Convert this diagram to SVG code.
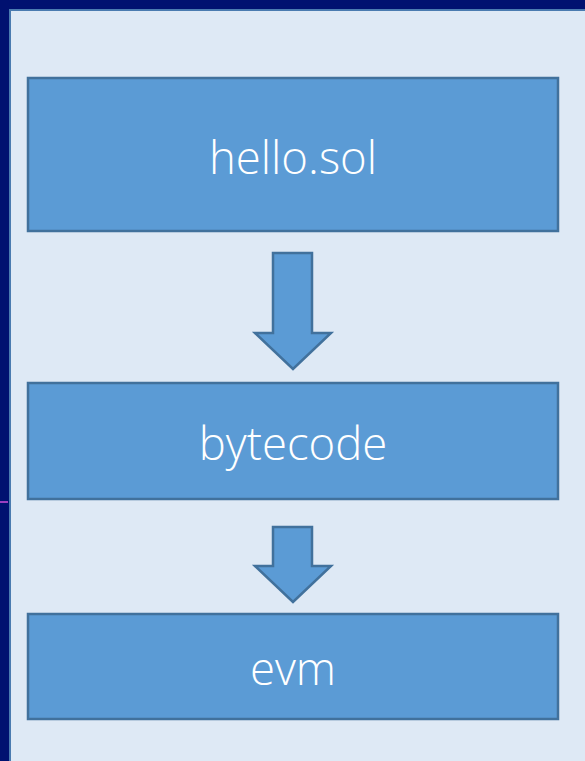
<svg xmlns="http://www.w3.org/2000/svg" width="585" height="761" viewBox="0 0 585 761">
<style>
.box{fill:#5b9bd5;stroke:#41719c;stroke-width:2.5}
.arr{fill:#5b9bd5;stroke:#41719c;stroke-width:2.5;stroke-linejoin:miter}
.lbl{fill:#ffffff;font-family:"Open Sans","Noto Sans",sans-serif;font-weight:300;font-size:45.5px;text-anchor:middle}
</style>
<rect x="0" y="0" width="585" height="761" fill="#dee9f5"/>
<rect x="0" y="0" width="585" height="9" fill="#001170"/>
<rect x="0" y="0" width="9" height="761" fill="#001170"/>
<rect x="9" y="9" width="576" height="2" fill="#4a7bb0"/>
<rect x="9" y="9" width="2" height="752" fill="#4a7bb0"/>
<rect x="0" y="501" width="8" height="2" fill="#9b3fc0"/>
<g id="connectors">
<polygon class="arr" points="273,253 312,253 312,333 331,333 293,369 255,333 273,333"/>
<polygon class="arr" points="273,527 312,527 312,566 331,566 293,602 255,566 273,566"/>
</g>
<g id="hello">
<rect class="box" x="28" y="78" width="530" height="153"/>
<text class="lbl" x="293" y="174">hello.sol</text>
</g>
<g id="bytecode">
<rect class="box" x="28" y="383" width="530" height="116"/>
<text class="lbl" x="293" y="460">bytecode</text>
</g>
<g id="evm">
<rect class="box" x="28" y="614" width="530" height="105"/>
<text class="lbl" x="293" y="685">evm</text>
</g>
</svg>
